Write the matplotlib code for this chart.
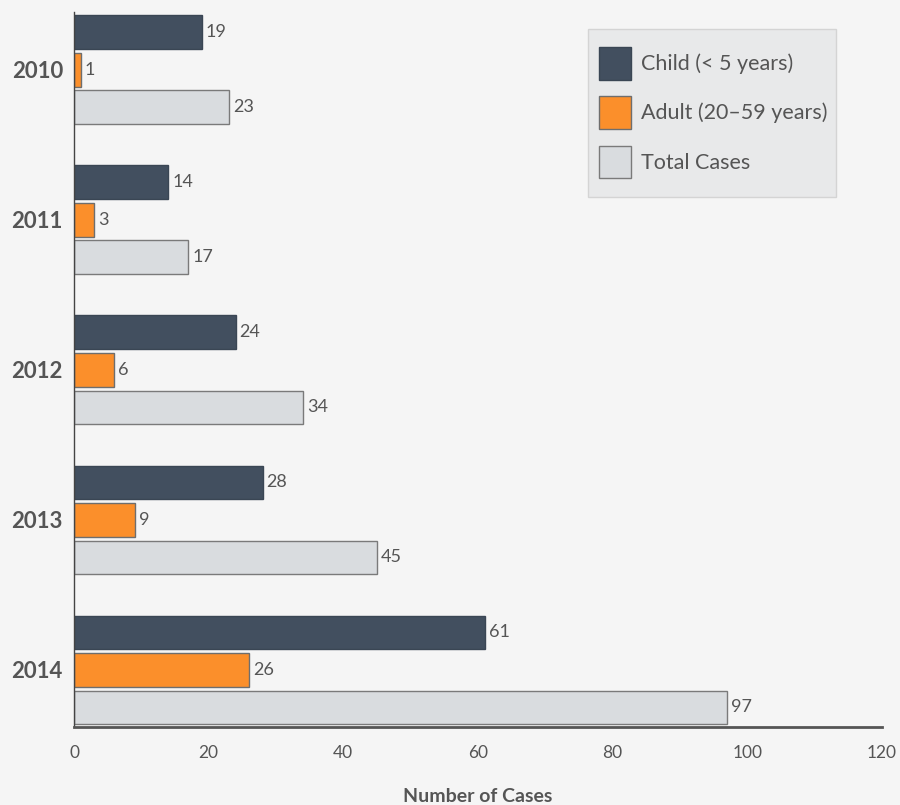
import matplotlib.pyplot as plt
from matplotlib.patches import Rectangle
import numpy as np

plt.rcParams['font.family'] = ['Lato', 'DejaVu Sans']

years = ['2010', '2011', '2012', '2013', '2014']
child = [19, 14, 24, 28, 61]
adult = [1, 3, 6, 9, 26]
total = [23, 17, 34, 45, 97]

series_labels = ['Child (< 5 years)', 'Adult (20\u201359 years)', 'Total Cases']
colors = ['#424f5f', '#fb8f2b', '#d9dcdf']
edges = ['#3a4654', '#6e6e6e', '#7a7a7a']

txt = '#555555'
bg = '#f5f5f5'

fig = plt.figure(figsize=(9, 8.05), dpi=100, facecolor=bg)
ax = fig.add_axes([74 / 900, 1 - 727 / 805, (882 - 74) / 900, (727 - 12) / 805])
ax.set_facecolor(bg)

y = np.arange(len(years))
h = 0.225
step = 0.25
for i, vals in enumerate([child, adult, total]):
    pos = y + (i - 1) * step
    bars = ax.barh(pos, vals, height=h, color=colors[i], edgecolor=edges[i],
                   linewidth=1, label=series_labels[i])
    for b, v in zip(bars, vals):
        ax.text(b.get_width() + 0.6, b.get_y() + b.get_height() / 2, str(v),
                va='center', ha='left', fontsize=13, color=txt)

ax.set_xlim(0, 120)
ax.set_ylim(4.38, -0.385)
ax.set_yticks(y)
ax.set_yticklabels(years, fontsize=16, fontweight='bold', color=txt)
ax.set_xticks(np.arange(0, 121, 20))
ax.tick_params(axis='x', length=0, pad=13, labelsize=12.5, labelcolor=txt)
ax.tick_params(axis='y', length=0, pad=8)

for s in ['top', 'right']:
    ax.spines[s].set_visible(False)
ax.spines['left'].set_color('#444444')
ax.spines['left'].set_linewidth(1)
ax.spines['bottom'].set_color('#555555')
ax.spines['bottom'].set_linewidth(2)

ax.set_xlabel('Number of Cases', fontsize=14, fontweight='bold', color=txt)
ax.xaxis.set_label_coords(0.5, -61 / 715)

# legend box drawn separately (padding is wider vertically than horizontally)
ax.add_patch(Rectangle((588 / 900, 1 - 197 / 805), (836 - 588) / 900, 168 / 805,
                       transform=fig.transFigure, facecolor='#e8e9ea',
                       edgecolor='#d4d4d4', linewidth=1, zorder=3, clip_on=False))
leg = ax.legend(loc='upper left', bbox_to_anchor=(599 / 900, 1 - 47 / 805),
                bbox_transform=fig.transFigure, fontsize=15.5, frameon=False,
                handlelength=1.5, handleheight=1.95,
                labelspacing=0.78, borderpad=0, handletextpad=0.45,
                borderaxespad=0)
leg.set_zorder(5)
for t in leg.get_texts():
    t.set_color(txt)

fig.savefig('out.png', dpi=100, facecolor=bg)
